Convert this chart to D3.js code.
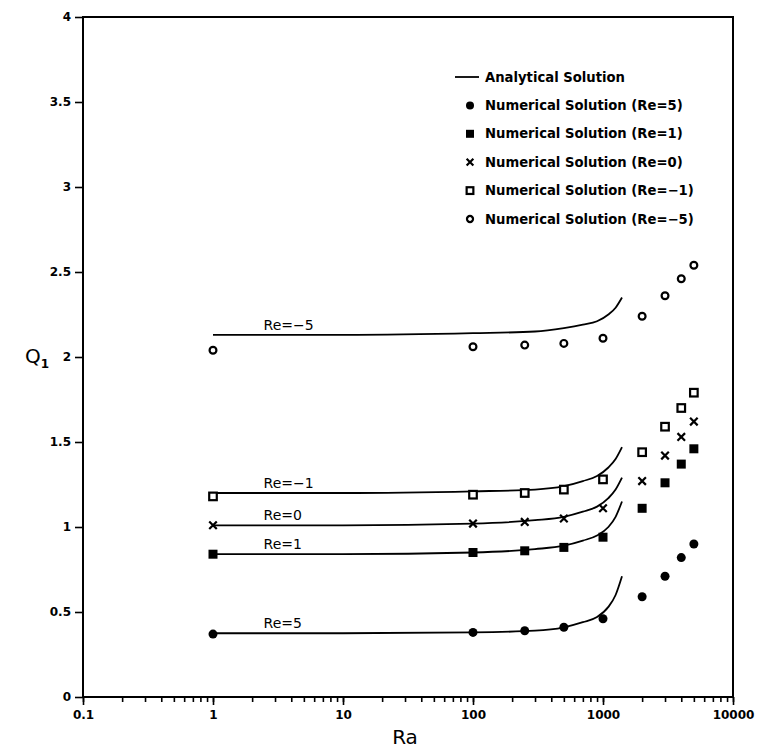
<!DOCTYPE html>
<html>
<head>
<meta charset="utf-8">
<script src="https://cdn.jsdelivr.net/npm/d3@7"></script>
<style>
  body { margin: 0; background: #fff; }
  .tick text { font-family: "DejaVu Sans", sans-serif; font-weight: bold; font-size: 12px; fill: #000; }
  .tick line { stroke: #000; stroke-width: 1.6; }
</style>
</head>
<body>
<div id="chart"></div>
<script>
// numerical solutions
const raPoints = [1, 100, 250, 500, 1000, 2000, 3000, 4000, 5000];
const numRe5  = [0.37, 0.38, 0.39, 0.41, 0.46, 0.59, 0.71, 0.82, 0.90];
const numRe1  = [0.84, 0.85, 0.86, 0.88, 0.94, 1.11, 1.26, 1.37, 1.46];
const numRe0  = [1.01, 1.02, 1.03, 1.05, 1.11, 1.27, 1.42, 1.53, 1.62];
const numReM1 = [1.18, 1.19, 1.20, 1.22, 1.28, 1.44, 1.59, 1.70, 1.79];
const numReM5 = [2.04, 2.06, 2.07, 2.08, 2.11, 2.24, 2.36, 2.46, 2.54];

// analytical curves
const raCurve = [1, 10, 100, 300, 500, 700, 900, 1100, 1250, 1400];
const anaRe5  = [0.375, 0.375, 0.38, 0.39, 0.41, 0.44, 0.47, 0.53, 0.60, 0.71];
const anaRe1  = [0.84, 0.84, 0.85, 0.87, 0.89, 0.92, 0.95, 1.00, 1.06, 1.15];
const anaRe0  = [1.01, 1.01, 1.02, 1.04, 1.06, 1.09, 1.12, 1.17, 1.22, 1.29];
const anaReM1 = [1.20, 1.20, 1.21, 1.22, 1.24, 1.27, 1.30, 1.35, 1.40, 1.47];
const anaReM5 = [2.13, 2.13, 2.14, 2.15, 2.17, 2.19, 2.21, 2.25, 2.29, 2.35];

const curveLabels = ["Re=5", "Re=1", "Re=0", "Re=\u22121", "Re=\u22125"];
const legendLabels = ["Analytical Solution", "Numerical Solution (Re=5)", "Numerical Solution (Re=1)",
    "Numerical Solution (Re=0)", "Numerical Solution (Re=\u22121)", "Numerical Solution (Re=\u22125)"];
const markerTypes = ["dot", "box", "cross", "openbox", "ring"];

const xMajor = [0.1, 1, 10, 100, 1000, 10000];
const yTicks = [0, 0.5, 1, 1.5, 2, 2.5, 3, 3.5, 4];

const margin = {top: 17, right: 29, bottom: 52, left: 83},
    width = 762 - margin.left - margin.right,
    height = 749 - margin.top - margin.bottom;

const svg = d3.select("#chart").append("svg")
    .attr("width", 762)
    .attr("height", 749)
    .append("g")
    .attr("transform", "translate(" + margin.left + "," + margin.top + ")");

const x = d3.scaleLog().domain([0.1, 10000]).range([0, width]);
const y = d3.scaleLinear().domain([0, 4]).range([height, 0]);

// minor ticks
svg.append("g")
    .attr("transform", "translate(0," + height + ")")
    .call(d3.axisBottom(x).tickValues(x.ticks()).tickSize(5).tickFormat(""))
    .call(g => g.select(".domain").remove());

// major ticks
svg.append("g")
    .attr("transform", "translate(0," + height + ")")
    .call(d3.axisBottom(x).tickValues(xMajor).tickSize(8).tickPadding(5).tickFormat(d => String(d)))
    .call(g => g.select(".domain").remove());

svg.append("g")
    .call(d3.axisLeft(y).tickValues(yTicks).tickSize(8).tickPadding(4).tickFormat(d => String(d)))
    .call(g => g.select(".domain").remove());

// frame
svg.append("rect")
    .attr("width", width)
    .attr("height", height)
    .attr("fill", "none")
    .attr("stroke", "#000")
    .attr("stroke-width", 2);

// axis titles
svg.append("text")
    .attr("x", width / 2 - 3)
    .attr("y", height + 47)
    .attr("text-anchor", "middle")
    .style("font-family", "DejaVu Sans, sans-serif")
    .style("font-size", "20px")
    .text("Ra");

const qLabel = svg.append("text")
    .attr("x", -58)
    .attr("y", y(2) + 6)
    .style("font-family", "DejaVu Sans, sans-serif")
    .style("font-size", "20px");
qLabel.append("tspan").text("Q");
qLabel.append("tspan").attr("dy", 5).style("font-size", "12px").style("font-weight", "bold").text("1");

// analytical curves
const line = d3.line()
    .x((d, i) => x(raCurve[i]))
    .y(d => y(d))
    .curve(d3.curveMonotoneX);

const curves = [anaRe5, anaRe1, anaRe0, anaReM1, anaReM5];
svg.selectAll(".ana")
    .data(curves)
    .enter().append("path")
    .attr("class", "ana")
    .attr("d", line)
    .attr("fill", "none")
    .attr("stroke", "#000")
    .attr("stroke-width", 1.8);

svg.selectAll(".relabel")
    .data(curveLabels)
    .enter().append("text")
    .attr("class", "relabel")
    .attr("x", x(2.45))
    .attr("y", (d, i) => y(curves[i][1]) - 5)
    .style("font-family", "DejaVu Sans, sans-serif")
    .style("font-size", "14px")
    .text(d => d);

// marker drawing
const drawMarker = (g, type, s) => {
    if (type === "dot") {
        g.append("circle").attr("r", s * 0.5).attr("fill", "#000");
    } else if (type === "box") {
        g.append("rect").attr("x", -s / 2).attr("y", -s / 2).attr("width", s).attr("height", s).attr("fill", "#000");
    } else if (type === "cross") {
        const h = s * 0.42;
        g.append("path").attr("d", `M${-h},${-h}L${h},${h}M${-h},${h}L${h},${-h}`)
            .attr("stroke", "#000").attr("stroke-width", 2.2);
    } else if (type === "openbox") {
        const h = s * 0.42;
        g.append("rect").attr("x", -h).attr("y", -h).attr("width", 2 * h).attr("height", 2 * h)
            .attr("fill", "#fff").attr("stroke", "#000").attr("stroke-width", 2.2);
    } else {
        g.append("circle").attr("r", s * 0.38).attr("fill", "#fff").attr("stroke", "#000").attr("stroke-width", 2.2);
    }
};

const numerical = [numRe5, numRe1, numRe0, numReM1, numReM5];
numerical.forEach((series, k) => {
    series.forEach((v, i) => {
        const g = svg.append("g").attr("transform", "translate(" + x(raPoints[i]) + "," + y(v) + ")");
        drawMarker(g, markerTypes[k], 9);
    });
});

// legend
const legend = svg.append("g").attr("transform", "translate(" + (470 - margin.left) + "," + (77 - margin.top) + ")");
legendLabels.forEach((lab, i) => {
    const row = legend.append("g").attr("transform", "translate(0," + i * 28.4 + ")");
    if (i === 0) {
        row.append("line").attr("x1", -15).attr("x2", 9).attr("stroke", "#000").attr("stroke-width", 1.8);
    } else {
        drawMarker(row, markerTypes[i - 1], 8);
    }
    row.append("text")
        .attr("x", 15)
        .attr("dy", "0.35em")
        .style("font-family", "DejaVu Sans, sans-serif")
        .style("font-weight", "bold")
        .style("font-size", "13.2px")
        .text(lab);
});
</script>
</body>
</html>
